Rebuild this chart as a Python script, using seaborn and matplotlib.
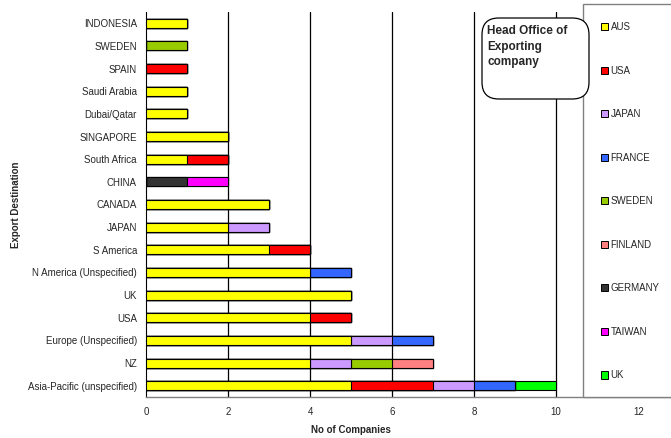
import numpy as np
import pandas as pd
import matplotlib
matplotlib.use("Agg")
import matplotlib.pyplot as plt
from matplotlib.patches import Patch, Rectangle, FancyBboxPatch
import seaborn as sns

destinations = ["INDONESIA", "SWEDEN", "SPAIN", "Saudi Arabia", "Dubai/Qatar",
                "SINGAPORE", "South Africa", "CHINA", "CANADA", "JAPAN",
                "S America", "N America (Unspecified)", "UK", "USA",
                "Europe (Unspecified)", "NZ", "Asia-Pacific (unspecified)"]
offices = ["AUS", "USA", "JAPAN", "FRANCE", "SWEDEN", "FINLAND", "GERMANY", "TAIWAN", "UK"]
aus     = [1, 0, 0, 1, 1, 2, 1, 0, 3, 2, 3, 4, 5, 4, 5, 4, 5]
usa     = [0, 0, 1, 0, 0, 0, 1, 0, 0, 0, 1, 0, 0, 1, 0, 0, 2]
japan   = [0, 0, 0, 0, 0, 0, 0, 0, 0, 1, 0, 0, 0, 0, 1, 1, 1]
france  = [0, 0, 0, 0, 0, 0, 0, 0, 0, 0, 0, 1, 0, 0, 1, 0, 1]
sweden  = [0, 1, 0, 0, 0, 0, 0, 0, 0, 0, 0, 0, 0, 0, 0, 1, 0]
finland = [0, 0, 0, 0, 0, 0, 0, 0, 0, 0, 0, 0, 0, 0, 0, 1, 0]
germany = [0, 0, 0, 0, 0, 0, 0, 1, 0, 0, 0, 0, 0, 0, 0, 0, 0]
taiwan  = [0, 0, 0, 0, 0, 0, 0, 1, 0, 0, 0, 0, 0, 0, 0, 0, 0]
uk      = [0, 0, 0, 0, 0, 0, 0, 0, 0, 0, 0, 0, 0, 0, 0, 0, 1]
colors = ["#FFFF00", "#FF0000", "#CC99FF", "#3366FF", "#99CC00",
          "#FF8080", "#333333", "#FF00FF", "#00FF00"]

series = [aus, usa, japan, france, sweden, finland, germany, taiwan, uk]
cum = np.cumsum(np.array(series, dtype=float), axis=0)

sns.set_style("white")
plt.rcParams["font.family"] = ["Liberation Sans", "DejaVu Sans"]

W, H = 671, 438
fig = plt.figure(figsize=(W / 100, H / 100), dpi=100)
ax = fig.add_axes([146 / W, 1 - 397 / H, 1 - 146 / W, (397 - 12) / H])

for i in range(len(series) - 1, -1, -1):
    df = pd.DataFrame({"dest": destinations, "val": cum[i]})
    sns.barplot(data=df, x="val", y="dest", order=destinations, orient="h",
                color=colors[i], saturation=1, width=0.4, edgecolor="black",
                linewidth=0.8, ax=ax, zorder=3)

ax.set_xlim(0, 12.8)
ax.set_ylim(len(destinations) - 0.5, -0.5)
ax.set_xticks([0, 2, 4, 6, 8, 10, 12])
ax.set_xticklabels(["0", "2", "4", "6", "8", "10", "12"], fontsize=7)
ax.set_yticks(range(len(destinations)))
ax.set_yticklabels(destinations, fontsize=7)
ax.set_yticks(np.arange(-0.5, len(destinations)), minor=True)
ax.tick_params(axis="y", which="major", length=0, pad=6.5)
ax.tick_params(axis="y", which="minor", length=3, direction="out", color="black", width=0.8)
ax.tick_params(axis="x", which="major", length=3, direction="out", color="#808080", width=0.8, pad=4)
for x in [2, 4, 6, 8, 10]:
    ax.axvline(x, color="black", lw=0.9, zorder=1)
for s in ["top", "right"]:
    ax.spines[s].set_visible(False)
ax.spines["left"].set_color("black")
ax.spines["left"].set_linewidth(0.8)
ax.spines["bottom"].set_color("#808080")
ax.spines["bottom"].set_linewidth(1.0)
ax.set_xlabel("")
ax.set_ylabel("")
ax.grid(False)

fig.text(16 / W, 1 - 205 / H, "Export Destination", rotation=90, fontsize=7,
         fontweight="bold", ha="center", va="center")
fig.text(351 / W, 1 - 430 / H, "No of Companies", fontsize=7,
         fontweight="bold", ha="center", va="center")

# legend frame
frame = Rectangle((583 / W, 1 - 397 / H), 0.5, (397 - 4) / H, transform=fig.transFigure,
                  facecolor="white", edgecolor="#808080", lw=1.0, zorder=5, clip_on=False)
fig.patches.append(frame)

handles = [Patch(facecolor=c, edgecolor="black", lw=0.7) for c in colors]
leg = fig.legend(handles, offices, loc="upper left", bbox_to_anchor=(601 / W, 1 - 22 / H),
                 frameon=False, fontsize=7, labelspacing=3.45, handlelength=0.75,
                 handleheight=0.75, handletextpad=0.25, borderaxespad=0, borderpad=0)
leg.set_zorder(6)

box = FancyBboxPatch((482 / W, 1 - 99 / H), (589 - 482) / W, (99 - 18) / H,
                     boxstyle="round,pad=0,rounding_size=0.025", transform=fig.transFigure,
                     facecolor="white", edgecolor="black", lw=0.9, zorder=7, mutation_aspect=W / H)
fig.patches.append(box)
fig.text(487 / W, 1 - 25 / H, "Head Office of\nExporting\ncompany", fontsize=8.5,
         fontweight="bold", ha="left", va="top", linespacing=1.4, zorder=8)

fig.savefig("out.png", dpi=100)
